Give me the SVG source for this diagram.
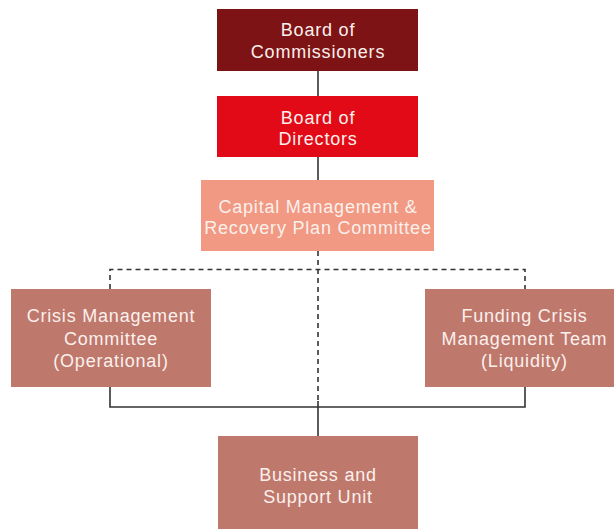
<svg xmlns="http://www.w3.org/2000/svg" width="614" height="529" viewBox="0 0 614 529">
<style>
.t{font-family:"Liberation Sans",Arial,sans-serif;font-size:18px;letter-spacing:0.8px;fill:#fbf0ec;text-anchor:middle}
.solid{stroke:#333;stroke-width:1.6;fill:none}
.dash{stroke:#333;stroke-width:1.6;fill:none;stroke-dasharray:5,4}
</style>
<rect width="614" height="529" fill="#fff"/>
<g id="connectors">
<line class="solid" x1="318" y1="71" x2="318" y2="96"/>
<line class="solid" x1="318" y1="157" x2="318" y2="180"/>
<path class="dash" d="M318 251 V401"/>
<path class="dash" d="M110 289 V269.5 H525 V289"/>
<path class="solid" d="M110 387 V407 H525 V387"/>
<line class="solid" x1="318" y1="401" x2="318" y2="436"/>
</g>
<g id="board-commissioners">
<rect x="217" y="9" width="201" height="62" fill="#7e1315"/>
<text class="t" x="318" y="36">Board of</text>
<text class="t" x="318" y="57.5">Commissioners</text>
</g>
<g id="board-directors">
<rect x="217" y="96" width="201" height="61" fill="#e20a17"/>
<text class="t" x="318" y="123.5">Board of</text>
<text class="t" x="318" y="144.5">Directors</text>
</g>
<g id="capital-management">
<rect x="201" y="180" width="233" height="71" fill="#f19983"/>
<text class="t" x="318" y="213">Capital Management &amp;</text>
<text class="t" x="318" y="234">Recovery Plan Committee</text>
</g>
<g id="crisis-management">
<rect x="11" y="289" width="200" height="98" fill="#bf786c"/>
<text class="t" x="111" y="322">Crisis Management</text>
<text class="t" x="111" y="344.5">Committee</text>
<text class="t" x="111" y="367">(Operational)</text>
</g>
<g id="funding-crisis">
<rect x="425" y="289" width="199" height="98" fill="#bf786c"/>
<text class="t" x="524.5" y="322">Funding Crisis</text>
<text class="t" x="524.5" y="344.5">Management Team</text>
<text class="t" x="524.5" y="367">(Liquidity)</text>
</g>
<g id="business-support">
<rect x="218" y="436" width="200" height="93" fill="#bf786c"/>
<text class="t" x="318" y="480.5">Business and</text>
<text class="t" x="318" y="503">Support Unit</text>
</g>
</svg>
